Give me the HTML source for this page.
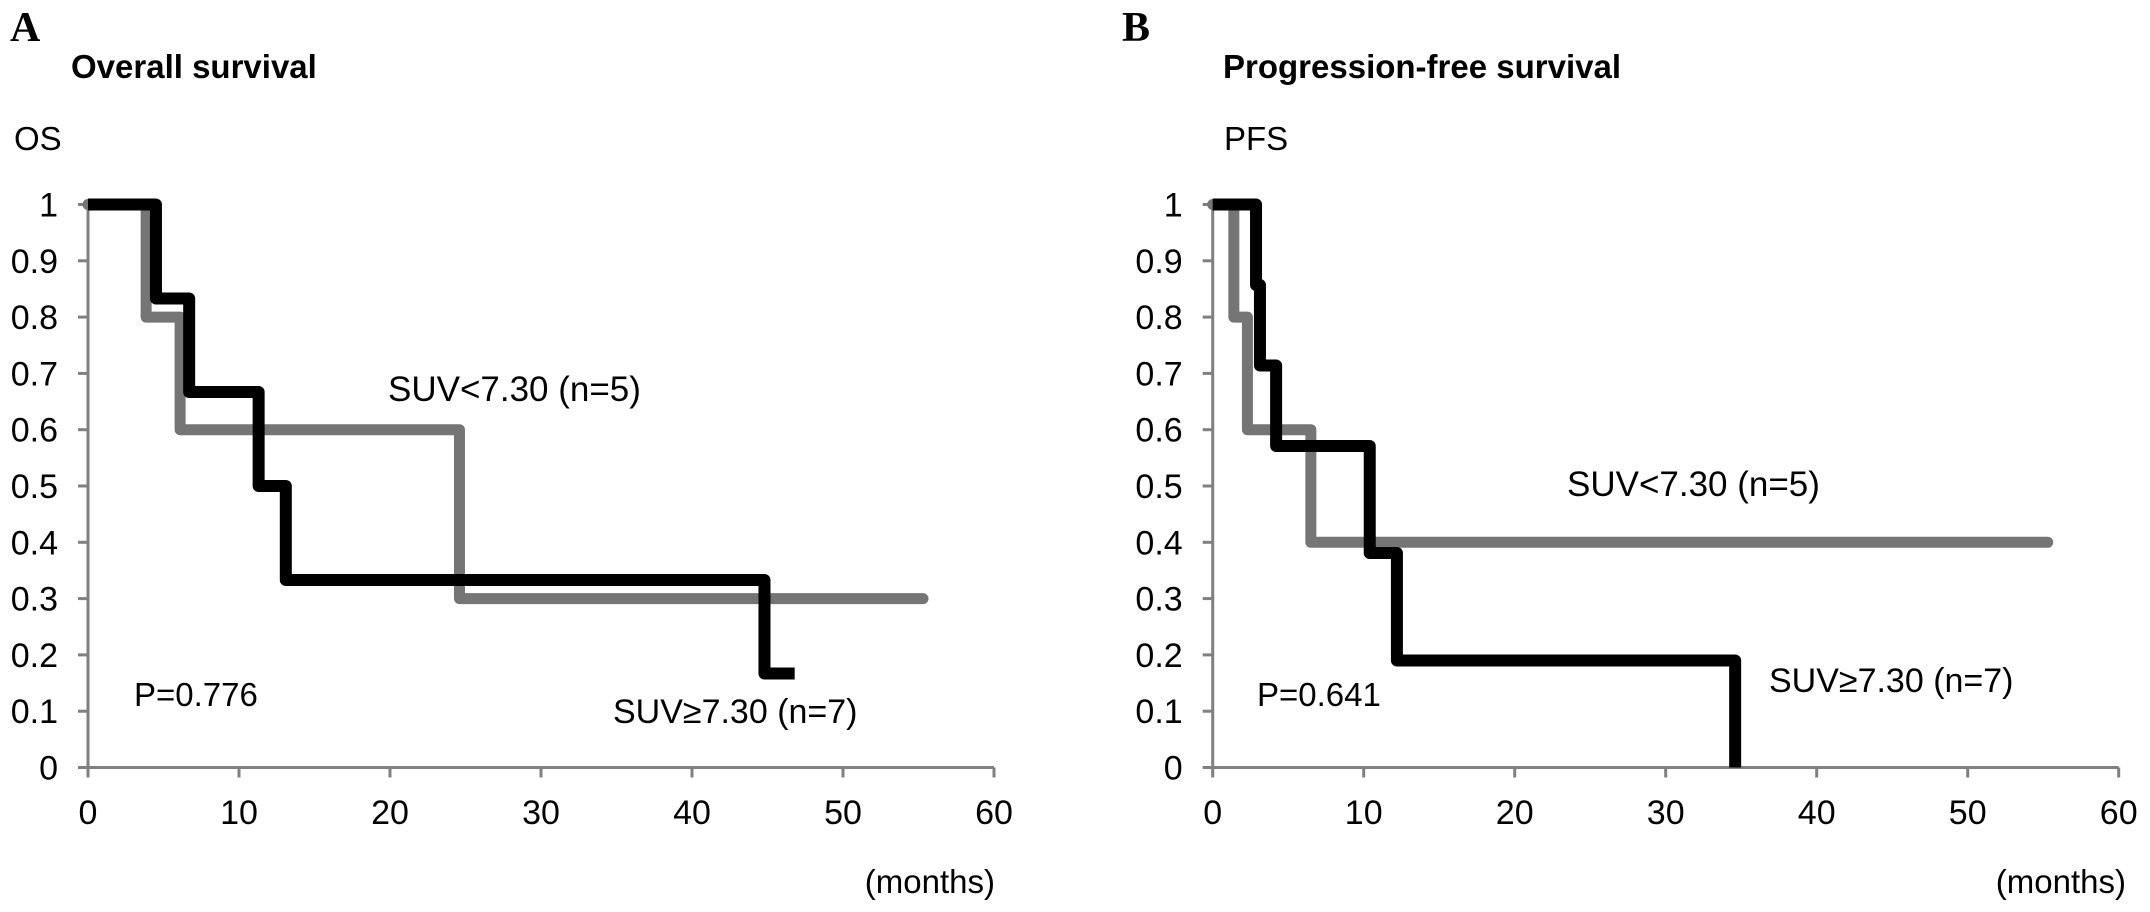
<!DOCTYPE html>
<html><head><meta charset="utf-8"><style>
html,body{margin:0;padding:0;background:#fff;}
svg{display:block;font-family:"Liberation Sans",Arial,sans-serif;}
</style></head><body>
<svg id="chart" width="2150" height="912" viewBox="0 0 2150 912" xmlns="http://www.w3.org/2000/svg">
<rect x="0" y="0" width="2150" height="912" fill="#fff"/>
<text x="10" y="41" font-family="Liberation Serif,serif" font-weight="bold" font-size="42">A</text>
<text x="71" y="78" font-weight="bold" font-size="33">Overall survival</text>
<text x="14" y="150" font-size="33">OS</text>
<text x="1122" y="41" font-family="Liberation Serif,serif" font-weight="bold" font-size="42">B</text>
<text x="1223" y="78" font-weight="bold" font-size="33">Progression-free survival</text>
<text x="1224" y="150" font-size="33">PFS</text>
<g id="panelA"></g>
<g id="panelB"></g>
</svg>
<script>
// X ticks (months) and Y ticks
var xTicks = [0,10,20,30,40,50,60];
var yTicks = [0,0.1,0.2,0.3,0.4,0.5,0.6,0.7,0.8,0.9,1];
var yTickLabels = ["0","0.1","0.2","0.3","0.4","0.5","0.6","0.7","0.8","0.9","1"];
// Panel A - Overall survival
var osLowTimes = [0,3.85,6.1,24.6,55.3];
var osLowSurv = [1,0.8,0.6,0.3,0.3];
var osHighTimes = [0,4.5,6.7,11.3,13.1,44.8,46.8];
var osHighSurv = [1,0.833,0.667,0.5,0.333,0.167,0.167];
// Panel B - Progression-free survival
var pfsLowTimes = [0,1.4,2.3,6.5,55.3];
var pfsLowSurv = [1,0.8,0.6,0.4,0.4];
var pfsHighTimes = [0,2.87,3.13,4.2,10.4,12.2,34.6];
var pfsHighSurv = [1,0.857,0.714,0.571,0.381,0.19,0];

var NS = "http://www.w3.org/2000/svg";
function mk(tag, attrs, parent){
  var e = document.createElementNS(NS, tag);
  for (var k in attrs) e.setAttribute(k, attrs[k]);
  parent.appendChild(e);
  return e;
}
function drawPanel(g, x0, prefix, curves, labels){
  var xMax = 60, pxPerMonth = 15.1, yTop = 204.5, yBot = 767.5;
  function sx(v){ return x0 + v * pxPerMonth; }
  function sy(v){ return yBot - v * (yBot - yTop); }
  var ax = mk("line",{x1:sx(0),y1:sy(0),x2:sx(xMax),y2:sy(0),stroke:"#808080","stroke-width":3},g);
  
  
  var ay = mk("line",{x1:sx(0),y1:sy(0)+1,x2:sx(0),y2:sy(1),stroke:"#808080","stroke-width":3},g);
  
  
  xTicks.forEach(function(t){
    var tk = mk("line",{x1:sx(t),y1:sy(0),x2:sx(t),y2:sy(0)+10,stroke:"#808080","stroke-width":3},g);
    
    
    var tl = mk("text",{x:sx(t),y:824,"text-anchor":"middle","font-size":34,fill:"#000"},g);
    tl.textContent = String(t);
    
    
  });
  yTicks.forEach(function(t,i){
    var tk = mk("line",{x1:sx(0)-10,y1:sy(t),x2:sx(0),y2:sy(t),stroke:"#808080","stroke-width":3},g);
    
    
    var tl = mk("text",{x:sx(0)-30,y:sy(t)+12,"text-anchor":"end","font-size":34,fill:"#000"},g);
    tl.textContent = yTickLabels[i];
    
    
  });
  curves.forEach(function(c){
    var d = "M" + sx(c.t[0]) + "," + sy(c.s[0]);
    for (var i = 1; i < c.t.length; i++){
      d += " L" + sx(c.t[i]) + "," + sy(c.s[i-1]) + " L" + sx(c.t[i]) + "," + sy(c.s[i]);
    }
    var p = mk("path",{d:d,fill:"none",stroke:c.color,"stroke-width":c.w,"stroke-linejoin":"round","stroke-linecap":c.cap},g);
    
    
  });
  labels.forEach(function(l){
    var t = mk("text",{x:l.x,y:l.y,"font-size":l.fs,fill:"#000"},g);
    t.textContent = l.text;
    if (l.anchor) t.setAttribute("text-anchor", l.anchor);
    
    
  });
}
drawPanel(document.getElementById("panelA"), 88, "panel-a", [
  {t:osLowTimes, s:osLowSurv, color:"#757575", w:11, cap:"round", name:"os-suv-low-curve"},
  {t:osHighTimes, s:osHighSurv, color:"#000", w:12, cap:"butt", name:"os-suv-high-curve"}
], [
  {x:388, y:401, fs:35, text:"SUV<7.30 (n=5)", name:"os-suv-low-label"},
  {x:134, y:706, fs:33, text:"P=0.776", name:"os-p-value"},
  {x:613, y:723, fs:34, text:"SUV\u22657.30 (n=7)", name:"os-suv-high-label"},
  {x:995, y:893, fs:33, text:"(months)", anchor:"end", name:"panel-a-x-axis-unit"}
]);
drawPanel(document.getElementById("panelB"), 1212.7, "panel-b", [
  {t:pfsLowTimes, s:pfsLowSurv, color:"#757575", w:11, cap:"round", name:"pfs-suv-low-curve"},
  {t:pfsHighTimes, s:pfsHighSurv, color:"#000", w:12, cap:"butt", name:"pfs-suv-high-curve"}
], [
  {x:1567, y:496, fs:35, text:"SUV<7.30 (n=5)", name:"pfs-suv-low-label"},
  {x:1257, y:706, fs:33, text:"P=0.641", name:"pfs-p-value"},
  {x:1769, y:692, fs:34, text:"SUV\u22657.30 (n=7)", name:"pfs-suv-high-label"},
  {x:2126, y:893, fs:33, text:"(months)", anchor:"end", name:"panel-b-x-axis-unit"}
]);
</script>
</body></html>
